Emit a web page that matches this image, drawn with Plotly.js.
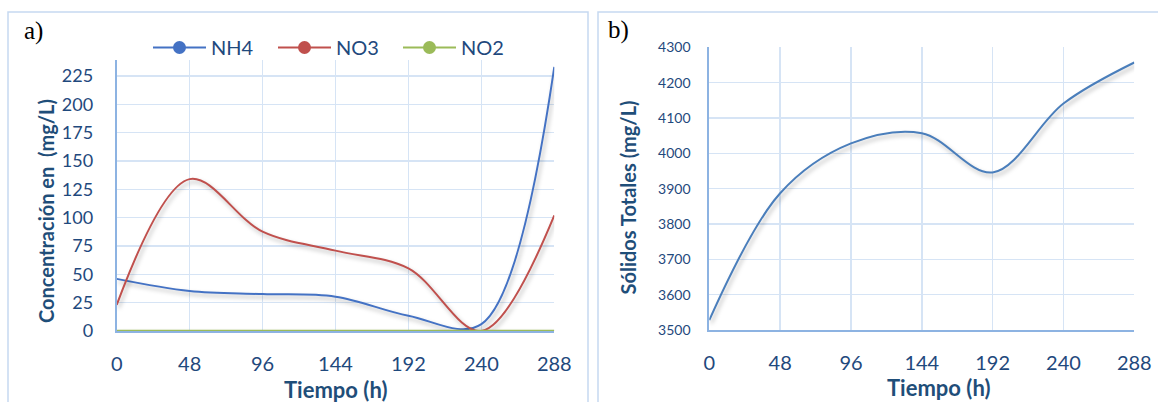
<!DOCTYPE html>
<html>
<head>
<meta charset="utf-8">
<script src="https://cdn.plot.ly/plotly-3.0.1.min.js"></script>
<style>
  html, body { margin: 0; padding: 0; background: #ffffff; }
  #chart { width: 1158px; height: 402px; }
</style>
</head>
<body>
<div id="chart"></div>
<script>
// ---- data ----
const timeHours = [0, 48, 96, 144, 192, 240, 288];
const nh4 = [46, 35.3, 32.6, 30.3, 13.5, 6, 233];
const no3 = [23, 134, 87.6, 70.9, 55.3, 0, 102];
const no2 = [0.3, 0.3, 0.3, 0.3, 0.3, 0.3, 0.3];
const solidosTotales = [3528, 3887, 4028, 4057, 3946, 4141, 4257];
const xTickVals = [0, 48, 96, 144, 192, 240, 288];
const seriesNames = ['NH4', 'NO3', 'NO2'];
const panelLabels = ['a)', 'b)'];
const yTitleA = 'Concentración en  (mg/L)';
const yTitleB = 'Sólidos Totales (mg/L)';
const xTitle = 'Tiempo (h)';

// ---- styling ----
const W = 1158, H = 402;
const colors = ['#4472C4', '#C0504D', '#9BBB59'];
const textBlue = '#1F497D';
const titleBlue = '#1F4E79';
const gridCol = '#D6E4F5';
const axisCol = '#8DB3E2';
const font = 'Lato, "Open Sans", sans-serif';
const px = v => v / W;
const py = v => (H - v) / H;

const lineShape = {shape: 'spline', smoothing: 1, width: 2};

const traces = [];
[nh4, no3, no2].forEach((vals, i) => {
  traces.push({
    x: timeHours, y: vals, type: 'scatter', mode: 'lines',
    line: Object.assign({color: colors[i]}, lineShape),
    xaxis: 'x', yaxis: 'y', showlegend: false, hoverinfo: 'skip'
  });
});
// legend entries (line + marker symbol)
seriesNames.forEach((name, i) => {
  traces.push({
    x: [null], y: [null], type: 'scatter', mode: 'lines+markers', name: name,
    line: {color: colors[i], width: 2},
    marker: {color: colors[i], size: 13},
    xaxis: 'x', yaxis: 'y', showlegend: true
  });
});
traces.push({
  x: timeHours, y: solidosTotales, type: 'scatter', mode: 'lines',
  line: Object.assign({color: '#4A7EBB'}, lineShape),
  xaxis: 'x2', yaxis: 'y2', showlegend: false, hoverinfo: 'skip'
});

const xCommon = {
  range: [0, 288], tickvals: xTickVals, ticktext: xTickVals.map(String),
  showgrid: true, gridcolor: gridCol, gridwidth: 1.5,
  zeroline: false, showline: true, linecolor: axisCol, linewidth: 1.5,
  ticks: '', tickfont: {family: font, size: 20, color: textBlue},
  ticklabelstandoff: 14, fixedrange: true
};

const layout = {
  width: W, height: H,
  margin: {l: 0, r: 0, t: 0, b: 0},
  paper_bgcolor: '#ffffff', plot_bgcolor: '#ffffff',
  showlegend: true,
  legend: {
    orientation: 'h', x: px(148), xanchor: 'left', y: py(47.5), yanchor: 'middle',
    font: {family: font, size: 20, color: textBlue},
    itemwidth: 53, entrywidth: 57, entrywidthmode: 'pixels',
    bgcolor: 'rgba(0,0,0,0)', borderwidth: 0, itemclick: false, itemdoubleclick: false
  },
  xaxis: Object.assign({}, xCommon, {domain: [px(116.7), px(554.3)], anchor: 'y'}),
  yaxis: {
    domain: [py(331), py(60)], anchor: 'x', range: [0, 239.1],
    tickvals: [0, 25, 50, 75, 100, 125, 150, 175, 200, 225],
    showgrid: true, gridcolor: gridCol, gridwidth: 1.5,
    zeroline: false, showline: true, linecolor: axisCol, linewidth: 2,
    ticks: '', tickfont: {family: font, size: 18, color: textBlue},
    ticklabelstandoff: 18, fixedrange: true
  },
  xaxis2: Object.assign({}, xCommon, {domain: [px(709.3), px(1134.3)], anchor: 'y2'}),
  yaxis2: {
    domain: [py(330), py(47.3)], anchor: 'x2', range: [3500, 4300], dtick: 100,
    showgrid: true, gridcolor: gridCol, gridwidth: 1.5,
    zeroline: false, showline: true, linecolor: axisCol, linewidth: 2,
    ticks: '', tickfont: {family: font, size: 14, color: textBlue},
    ticklabelstandoff: 14, fixedrange: true
  },
  shapes: [
    {type: 'rect', xref: 'paper', yref: 'paper', x0: px(8), x1: px(588), y0: py(420), y1: py(12),
     line: {color: '#C6D9F1', width: 1.5}, fillcolor: 'rgba(0,0,0,0)', layer: 'below'},
    {type: 'rect', xref: 'paper', yref: 'paper', x0: px(598), x1: px(1170), y0: py(420), y1: py(12),
     line: {color: '#C6D9F1', width: 1.5}, fillcolor: 'rgba(0,0,0,0)', layer: 'below'}
  ],
  annotations: [
    {text: panelLabels[0], xref: 'paper', yref: 'paper', x: px(22), y: py(31), xanchor: 'left', yanchor: 'middle',
     showarrow: false, font: {family: '"Liberation Serif", "Times New Roman", serif', size: 25, color: '#000000'}},
    {text: panelLabels[1], xref: 'paper', yref: 'paper', x: px(606), y: py(30), xanchor: 'left', yanchor: 'middle',
     showarrow: false, font: {family: '"Liberation Serif", "Times New Roman", serif', size: 25, color: '#000000'}},
    {text: '<b>' + yTitleA + '</b>', xref: 'paper', yref: 'paper', x: px(46), y: py(211), xanchor: 'center', yanchor: 'middle',
     textangle: -90, showarrow: false, font: {family: font, size: 20, color: titleBlue}},
    {text: '<b>' + yTitleB + '</b>', xref: 'paper', yref: 'paper', x: px(628), y: py(197.5), xanchor: 'center', yanchor: 'middle',
     textangle: -90, showarrow: false, font: {family: font, size: 20, color: titleBlue}},
    {text: '<b>' + xTitle + '</b>', xref: 'paper', yref: 'paper', x: px(335.5), y: py(389), xanchor: 'center', yanchor: 'middle',
     showarrow: false, font: {family: font, size: 22, color: titleBlue}},
    {text: '<b>' + xTitle + '</b>', xref: 'paper', yref: 'paper', x: px(938), y: py(387), xanchor: 'center', yanchor: 'middle',
     showarrow: false, font: {family: font, size: 22, color: titleBlue}}
  ]
};

Plotly.newPlot('chart', traces, layout, {staticPlot: true, displayModeBar: false}).then(() => {
  document.querySelectorAll('.scatterlayer .trace path.js-line').forEach(p => {
    p.style.filter = 'drop-shadow(2px 3px 2px rgba(0,0,0,0.28))';
  });
});
</script>
</body>
</html>
